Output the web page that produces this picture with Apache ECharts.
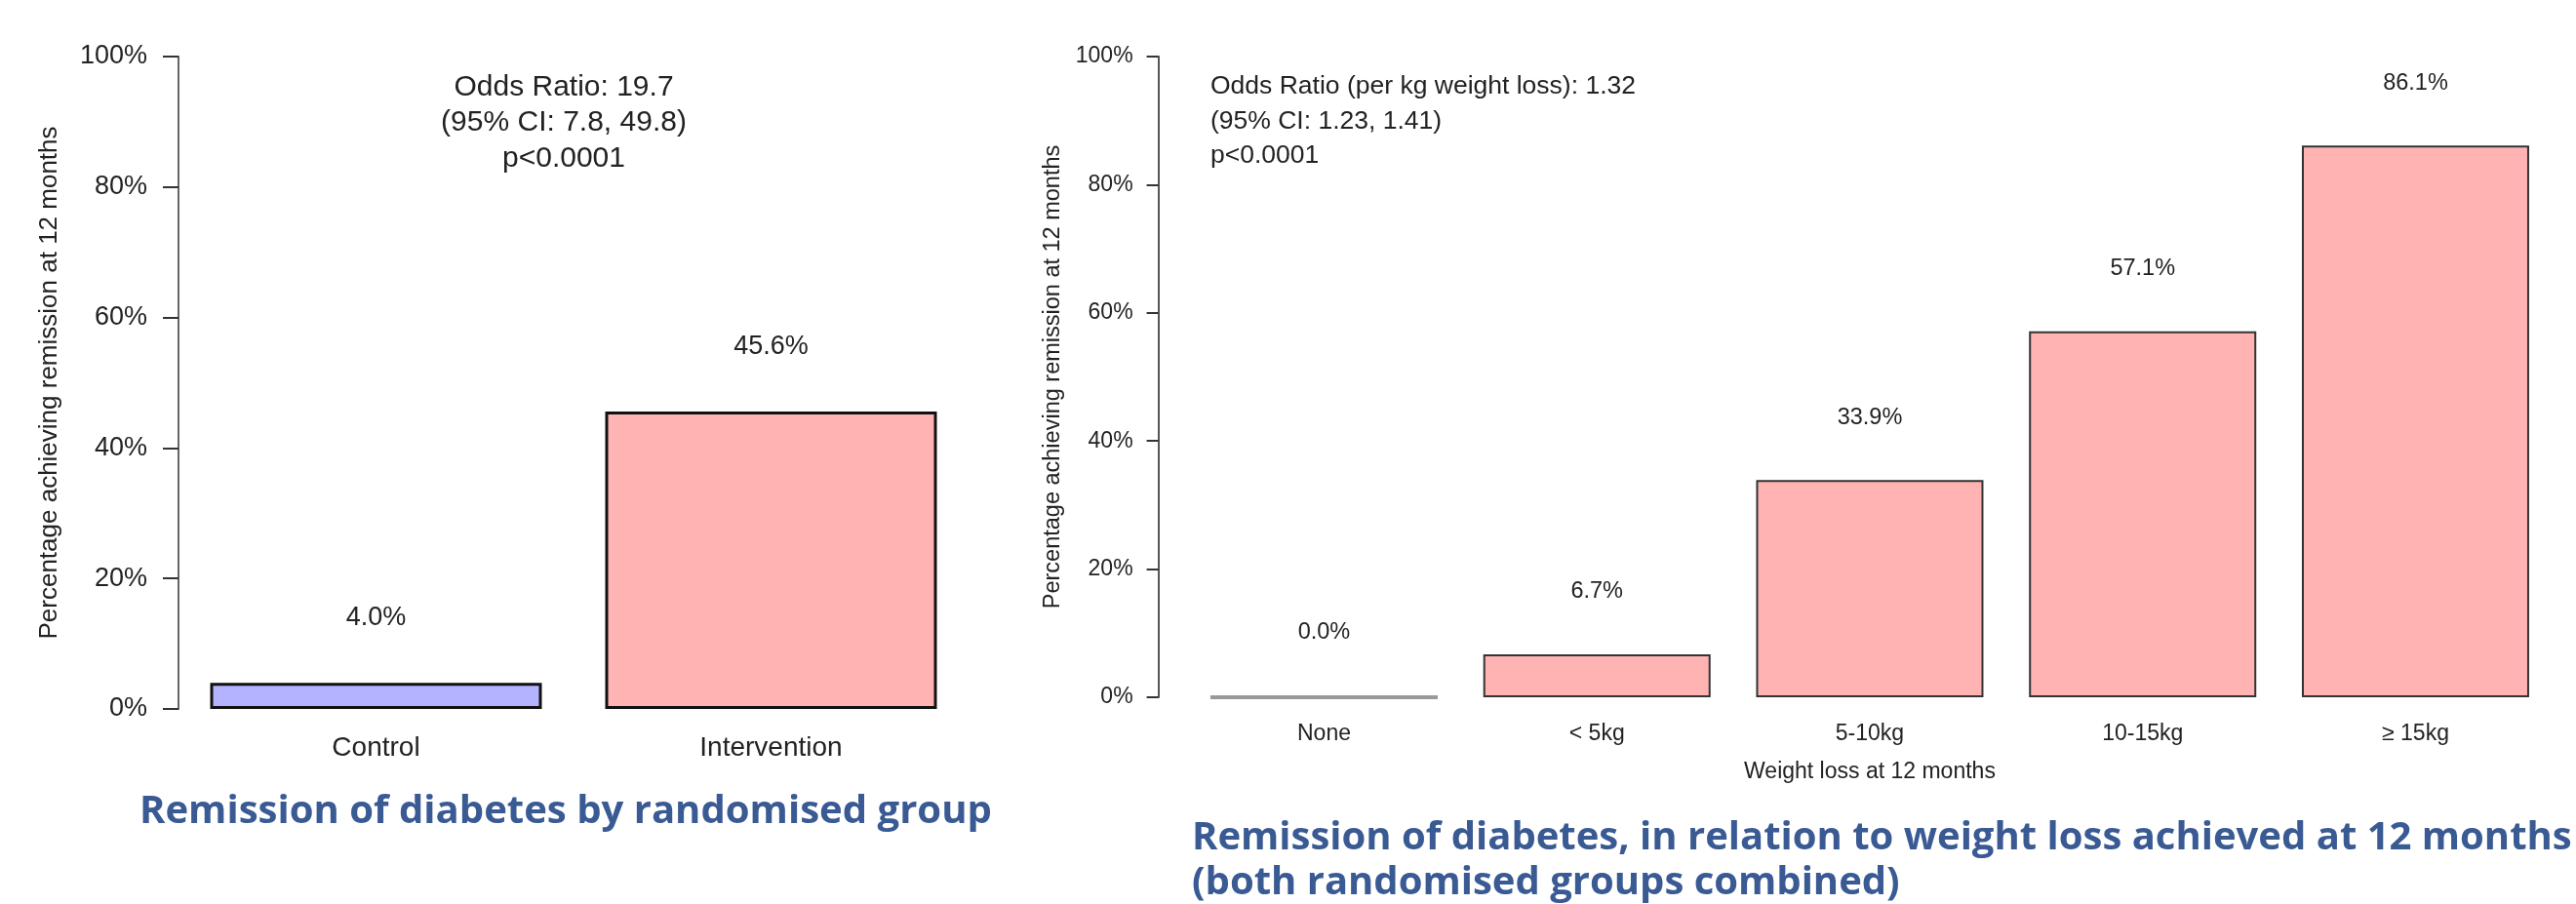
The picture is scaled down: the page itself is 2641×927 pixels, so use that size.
<!DOCTYPE html>
<html>
<head>
<meta charset="utf-8">
<script src="https://cdn.jsdelivr.net/npm/echarts@6/dist/echarts.min.js"></script>
<style>
html,body{margin:0;padding:0;background:#fff;}
#chart{width:2641px;height:927px;}
</style>
</head>
<body>
<div id="chart"></div>
<script>
// ---- data ----
const leftCategories = ['Control', 'Intervention'];
const leftValues = [4.0, 45.6];
const rightCategories = ['None', '< 5kg', '5-10kg', '10-15kg', '\u2265 15kg'];
const rightValues = [0.0, 6.7, 33.9, 57.1, 86.1];
const yAxisMin = 0;
const yAxisMax = 100;
const yAxisStep = 20;
const yAxisTitle = 'Percentage achieving remission at 12 months';
const rightXAxisTitle = 'Weight loss at 12 months';
const leftNote = 'Odds Ratio: 19.7\n(95% CI: 7.8, 49.8)\np<0.0001';
const rightNote = 'Odds Ratio (per kg weight loss): 1.32\n(95% CI: 1.23, 1.41)\np<0.0001';
const leftTitle = 'Remission of diabetes by randomised group';
const rightTitle1 = 'Remission of diabetes, in relation to weight loss achieved at 12 months';
const rightTitle2 = '(both randomised groups combined)';

// ---- styles ----
const FONT = "'Liberation Sans', Arial, sans-serif";
const TFONT = "'Open Sans', 'Noto Sans', sans-serif";
const TEXT = '#222';
const TITLE_COLOR = '#3A5A94';
const leftColors = ['#B3B3FF', '#FFB3B3'];
const rightColor = '#FFB3B3';

function fitFont(text, target) {
  const c = document.createElement('canvas').getContext('2d');
  c.font = 'bold 100px ' + TFONT;
  return 100 * target / c.measureText(text).width;
}
const leftTitleSize = fitFont(leftTitle, 874);
const rightTitleSize = fitFont(rightTitle1, 1415);

const pct = p => p.value.toFixed(1) + '%';

const chart = echarts.init(document.getElementById('chart'));
const option = {
  animation: false,
  backgroundColor: '#fff',
  grid: [
    {left: 183, top: 58, width: 810, height: 669},
    {left: 1217.6, top: 58, width: 1398.75, height: 657}
  ],
  xAxis: [
    {
      type: 'category', gridIndex: 0, data: leftCategories,
      axisLine: {show: false}, axisTick: {show: false},
      axisLabel: {margin: 26, fontSize: 28, color: TEXT, fontFamily: FONT}
    },
    {
      type: 'category', gridIndex: 1, data: rightCategories,
      axisLine: {show: false}, axisTick: {show: false},
      axisLabel: {margin: 26, fontSize: 23, color: TEXT, fontFamily: FONT},
      name: rightXAxisTitle, nameLocation: 'middle', nameGap: 65,
      nameTextStyle: {fontSize: 23, color: TEXT, fontFamily: FONT}
    }
  ],
  yAxis: [
    {
      type: 'value', gridIndex: 0, min: yAxisMin, max: yAxisMax, interval: yAxisStep,
      axisLine: {show: true, lineStyle: {color: '#666', width: 2}},
      axisTick: {show: true, length: 16, lineStyle: {color: '#333', width: 2}},
      axisLabel: {formatter: '{value}%', margin: 32, fontSize: 27, color: TEXT, fontFamily: FONT},
      splitLine: {show: false},
      name: yAxisTitle, nameLocation: 'middle', nameRotate: 90, nameGap: 119,
      nameTextStyle: {fontSize: 26, color: TEXT, fontFamily: FONT}
    },
    {
      type: 'value', gridIndex: 1, min: yAxisMin, max: yAxisMax, interval: yAxisStep, offset: 30,
      axisLine: {show: true, lineStyle: {color: '#555', width: 2}},
      axisTick: {show: true, length: 12, lineStyle: {color: '#333', width: 2}},
      axisLabel: {formatter: '{value}%', margin: 26, fontSize: 23, color: TEXT, fontFamily: FONT},
      splitLine: {show: false},
      name: yAxisTitle, nameLocation: 'middle', nameRotate: 90, nameGap: 86,
      nameTextStyle: {fontSize: 23.5, color: TEXT, fontFamily: FONT}
    }
  ],
  series: [
    {
      type: 'bar', xAxisIndex: 0, yAxisIndex: 0, barWidth: 340,
      data: leftValues.map((v, i) => ({value: v, itemStyle: {color: leftColors[i]}})),
      itemStyle: {borderColor: '#111', borderWidth: 3},
      label: {show: true, position: 'top', distance: 53, formatter: pct,
              fontSize: 27, color: TEXT, fontFamily: FONT}
    },
    {
      type: 'bar', xAxisIndex: 1, yAxisIndex: 1, barWidth: 233,
      data: rightValues.map(v => v === 0
        ? {value: v, itemStyle: {borderColor: '#999', borderWidth: 4}}
        : {value: v}),
      itemStyle: {color: rightColor, borderColor: '#333', borderWidth: 2},
      label: {show: true, position: 'top', distance: 52, formatter: pct,
              fontSize: 23.5, color: TEXT, fontFamily: FONT}
    }
  ],
  graphic: [
    {type: 'text', x: 578, y: 71, style: {text: leftNote, fontSize: 30, fontFamily: FONT, fill: TEXT,
      align: 'center', textAlign: 'center', verticalAlign: 'top', textVerticalAlign: 'top', lineHeight: 36.5}},
    {type: 'text', x: 1241, y: 71, style: {text: rightNote, fontSize: 26.5, fontFamily: FONT, fill: TEXT,
      align: 'left', textAlign: 'left', verticalAlign: 'top', textVerticalAlign: 'top', lineHeight: 35.5}},
    {type: 'text', x: 143, y: 833, style: {text: leftTitle, fontSize: leftTitleSize, fontFamily: TFONT, fontWeight: 'bold',
      fill: TITLE_COLOR, align: 'left', textAlign: 'left', verticalAlign: 'middle', textVerticalAlign: 'middle'}},
    {type: 'text', x: 1222, y: 860, style: {text: rightTitle1, fontSize: rightTitleSize, fontFamily: TFONT, fontWeight: 'bold',
      fill: TITLE_COLOR, align: 'left', textAlign: 'left', verticalAlign: 'middle', textVerticalAlign: 'middle'}},
    {type: 'text', x: 1222, y: 906, style: {text: rightTitle2, fontSize: rightTitleSize, fontFamily: TFONT, fontWeight: 'bold',
      fill: TITLE_COLOR, align: 'left', textAlign: 'left', verticalAlign: 'middle', textVerticalAlign: 'middle'}}
  ]
};
chart.setOption(option);
</script>
</body>
</html>
